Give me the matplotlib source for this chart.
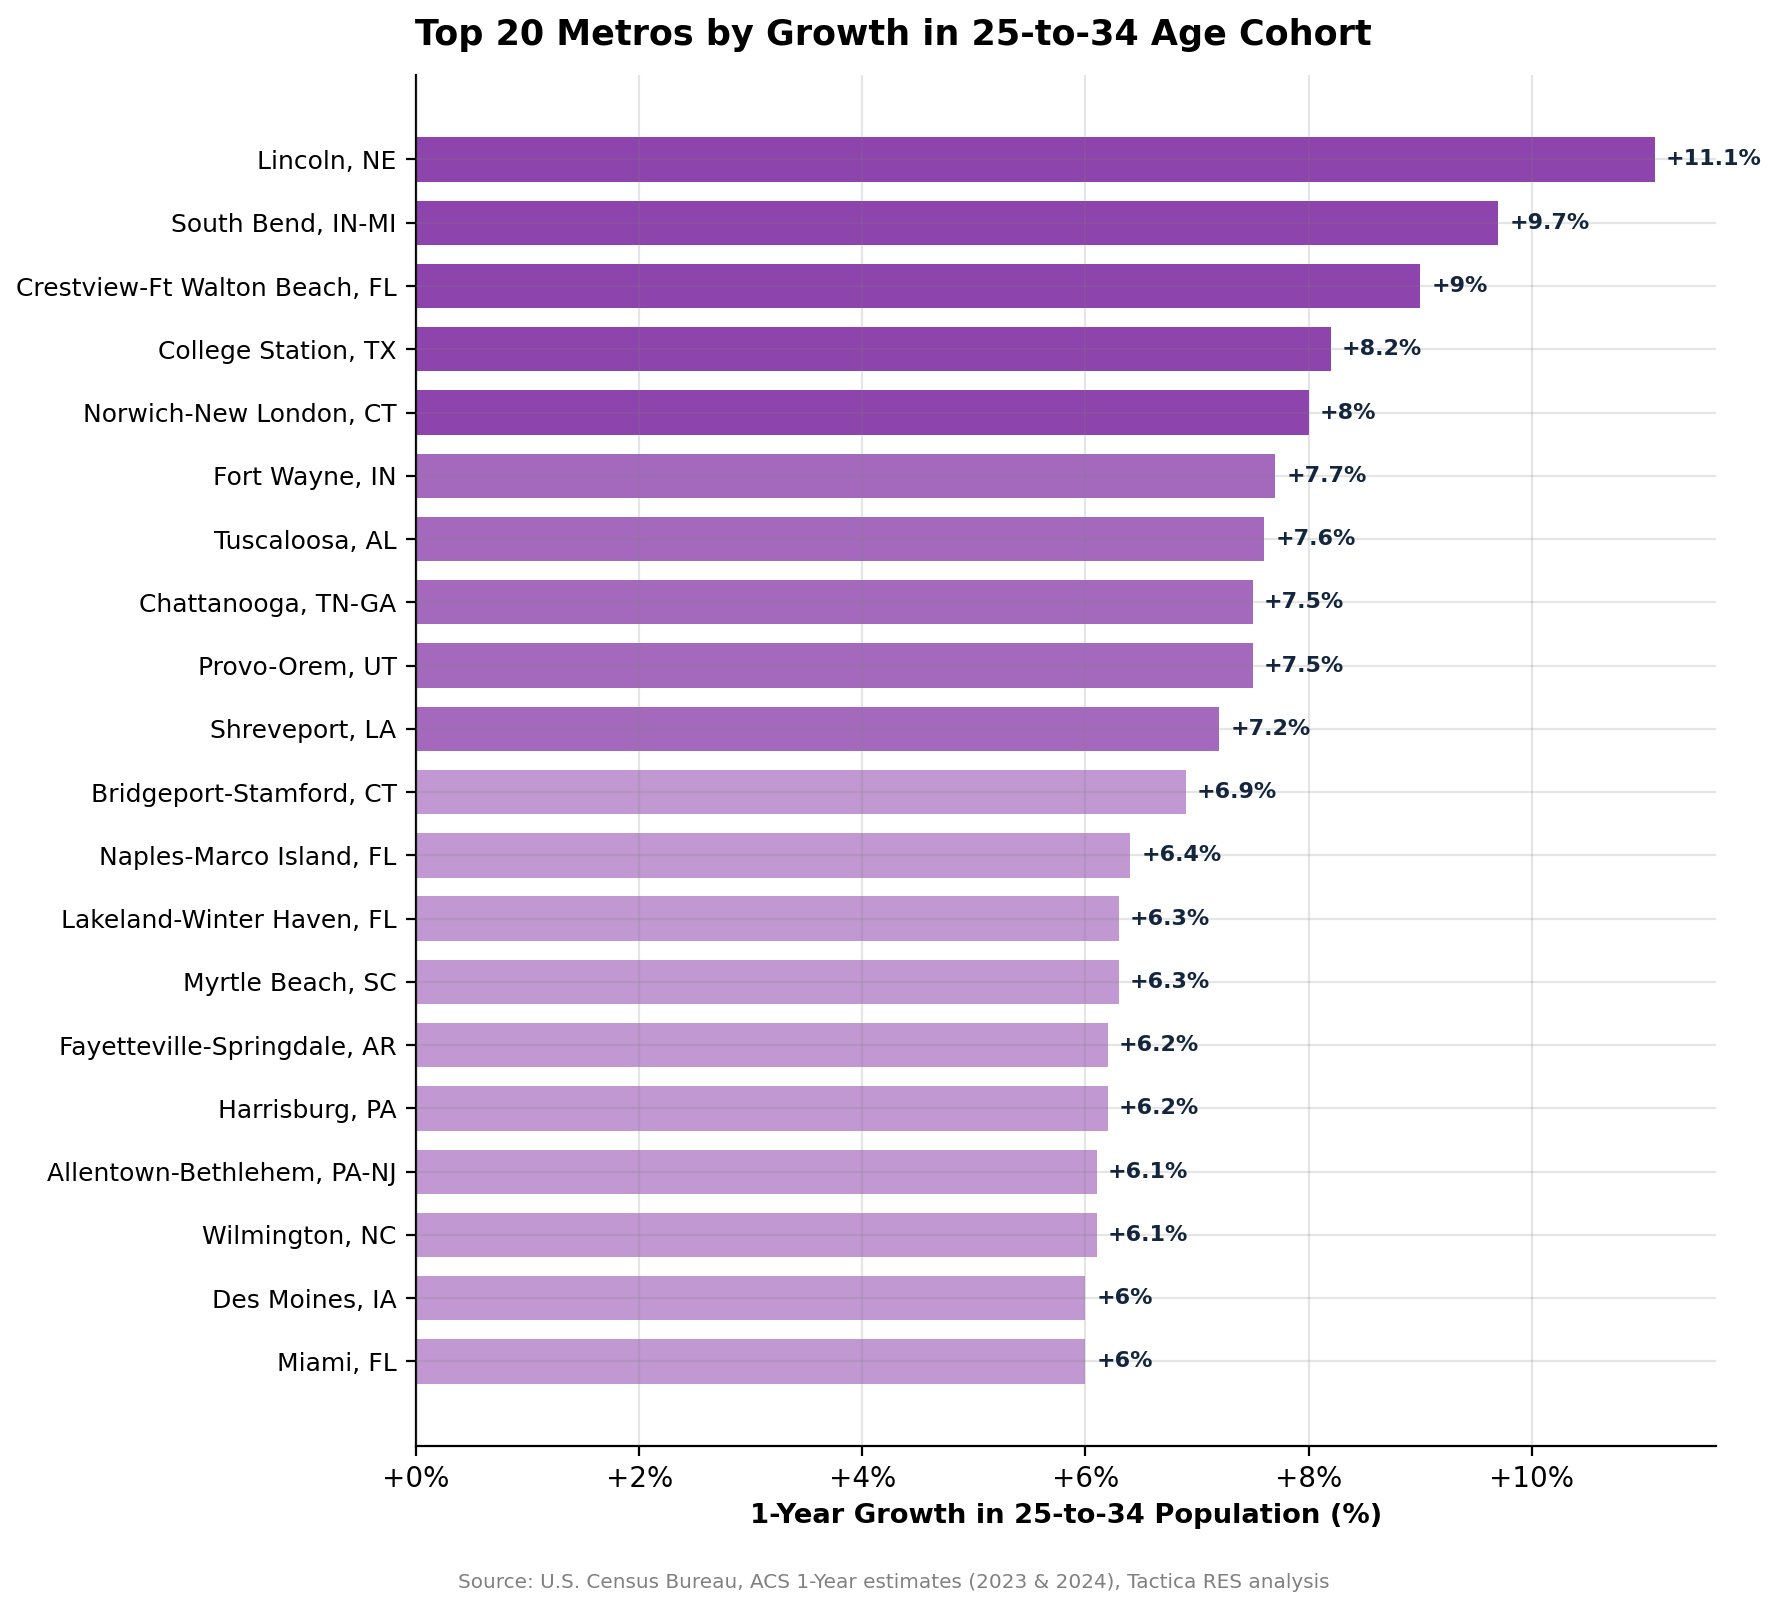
import matplotlib
matplotlib.use("Agg")
import matplotlib.pyplot as plt
from matplotlib.ticker import FuncFormatter

metros = ["Lincoln, NE", "South Bend, IN-MI", "Crestview-Ft Walton Beach, FL",
          "College Station, TX", "Norwich-New London, CT", "Fort Wayne, IN",
          "Tuscaloosa, AL", "Chattanooga, TN-GA", "Provo-Orem, UT", "Shreveport, LA",
          "Bridgeport-Stamford, CT", "Naples-Marco Island, FL", "Lakeland-Winter Haven, FL",
          "Myrtle Beach, SC", "Fayetteville-Springdale, AR", "Harrisburg, PA",
          "Allentown-Bethlehem, PA-NJ", "Wilmington, NC", "Des Moines, IA", "Miami, FL"]
growth = [11.1, 9.7, 9.0, 8.2, 8.0, 7.7, 7.6, 7.5, 7.5, 7.2,
          6.9, 6.4, 6.3, 6.3, 6.2, 6.2, 6.1, 6.1, 6.0, 6.0]
value_labels = ["+11.1%", "+9.7%", "+9%", "+8.2%", "+8%", "+7.7%", "+7.6%", "+7.5%",
                "+7.5%", "+7.2%", "+6.9%", "+6.4%", "+6.3%", "+6.3%", "+6.2%", "+6.2%",
                "+6.1%", "+6.1%", "+6%", "+6%"]

base = "#8e44ad"
alphas = [1.0] * 5 + [0.8] * 5 + [0.55] * 10

fig = plt.figure(figsize=(8.9, 8.05), dpi=200)
ax = fig.add_axes([0.2337, 0.1019, 0.7306, 0.9534 - 0.1019])

n = len(metros)
ypos = list(range(n))
for i, (v, a) in enumerate(zip(growth, alphas)):
    ax.barh(ypos[i], v, height=0.7, color=base, alpha=a, edgecolor="none", zorder=1)

for i, (v, lab) in enumerate(zip(growth, value_labels)):
    ax.text(v + 0.1, ypos[i], lab, va="center", ha="left", fontsize=8,
            fontweight="bold", color="#14263d")

ax.set_yticks(ypos)
ax.set_yticklabels(metros, fontsize=9)
ax.invert_yaxis()
ax.set_xlim(0, max(growth) * 1.05)
ax.set_xticks([0, 2, 4, 6, 8, 10])
ax.xaxis.set_major_formatter(FuncFormatter(lambda x, p: f"+{x:.0f}%"))
ax.tick_params(axis="x", labelsize=10)

ax.grid(True, color="gray", alpha=0.2, linewidth=0.8, zorder=3)
ax.set_axisbelow(False)
for s in ["top", "right"]:
    ax.spines[s].set_visible(False)

ax.set_xlabel("1-Year Growth in 25-to-34 Population (%)", fontsize=9.85,
              fontweight="bold", labelpad=3.5)
fig.suptitle("Top 20 Metros by Growth in 25-to-34 Age Cohort", fontsize=12.6,
             fontweight="bold", x=0.502, y=0.989)
fig.text(0.502, 0.017, "Source: U.S. Census Bureau, ACS 1-Year estimates (2023 & 2024), Tactica RES analysis",
         ha="center", va="center", fontsize=7.2, color="#808080")

fig.savefig("out.png", dpi=200)
